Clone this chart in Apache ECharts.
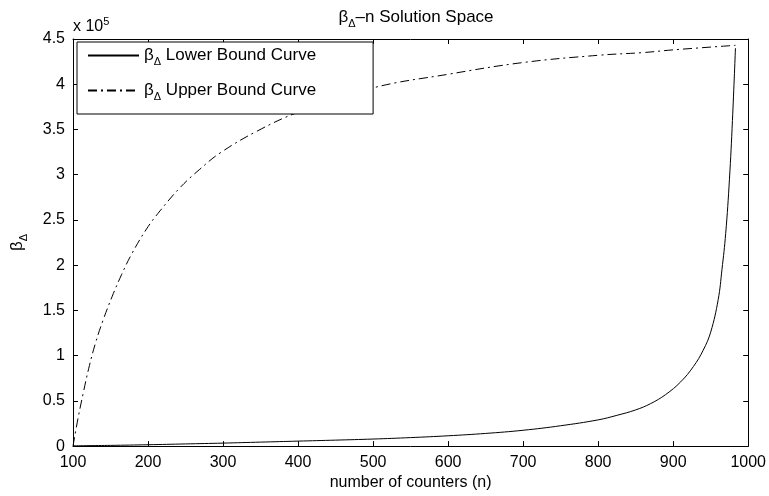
<!DOCTYPE html>
<html>
<head>
<meta charset="utf-8">
<script src="https://cdn.jsdelivr.net/npm/echarts@6/dist/echarts.min.js"></script>
<style>
  html, body { margin: 0; padding: 0; background: #fff; }
  #chart { width: 769px; height: 496px; }
</style>
</head>
<body>
<div id="chart"></div>
<script>
  // β_Δ values are in units of 10^5
  const lowerN = [100, 150, 200, 250, 300, 350, 400, 450, 500, 550, 600, 650, 700, 750, 800, 825, 850, 870, 890, 910, 927, 940, 950, 960, 965, 970, 975, 979, 983]
  const lowerBeta = [0.003, 0.008, 0.015, 0.024, 0.033, 0.044, 0.055, 0.066, 0.078, 0.094, 0.114, 0.14, 0.175, 0.225, 0.29, 0.34, 0.40, 0.47, 0.57, 0.71, 0.88, 1.06, 1.26, 1.62, 1.95, 2.35, 2.95, 3.6, 4.4]
  const upperN = [100, 107, 114, 121, 130, 140, 152, 165, 178, 198, 216, 243, 269, 296, 345, 400, 500, 600, 700, 800, 860, 900, 983]
  const upperBeta = [0.0, 0.32, 0.60, 0.86, 1.14, 1.39, 1.65, 1.90, 2.12, 2.40, 2.60, 2.86, 3.06, 3.24, 3.48, 3.69, 3.96, 4.11, 4.24, 4.32, 4.35, 4.38, 4.43]
  const seriesNames = ['Lower Bound Curve', 'Upper Bound Curve']
  const yTicks = [0, 0.5, 1, 1.5, 2, 2.5, 3, 3.5, 4, 4.5]

  const font = 'Liberation Sans, Arial, Helvetica, sans-serif'
  const chart = echarts.init(document.getElementById('chart'))

  const pairs = (xs, ys) => xs.map((x, i) => [x, ys[i]])
  const subRich = {
    b: { fontFamily: font, fontSize: 17, color: '#000' },
    s: { fontFamily: font, fontSize: 11, color: '#000', padding: [12, 0, 0, 0] },
    t: { fontFamily: font, fontSize: 17, color: '#000' }
  }
  const tickAxis = (pos, showLabel) => ({
    axisLine: { show: true, onZero: false, lineStyle: { color: '#000', width: 1 } },
    axisTick: { show: true, inside: true, length: 5, lineStyle: { color: '#000', width: 1 } },
    axisLabel: showLabel ? { color: '#000', fontFamily: font, fontSize: 16, formatter: v => String(v) } : { show: false },
    splitLine: { show: false },
    position: pos
  })

  const option = {
    backgroundColor: '#fff',
    animation: false,
    title: {
      text: '{b|β}{s|Δ}{t|–n Solution Space}',
      left: 411,
      top: 1,
      textAlign: 'center',
      textStyle: { fontWeight: 'normal', rich: subRich }
    },
    grid: { left: 73, right: 20, top: 39, bottom: 49 },
    legend: {
      orient: 'vertical',
      left: 77,
      top: 42,
      padding: [5, 57, 12, 10],
      itemWidth: 51,
      itemHeight: 14,
      itemGap: 15,
      borderColor: '#000',
      borderWidth: 1,
      backgroundColor: '#fff',
      borderRadius: 0,
      data: seriesNames,
      itemStyle: { opacity: 0 },
      formatter: name => '{b|β}{s|Δ}{t| ' + name + '}',
      textStyle: { rich: subRich }
    },
    xAxis: [
      Object.assign(tickAxis('bottom', true), {
        type: 'value', min: 100, max: 1000, interval: 100,
        name: 'number of counters (n)', nameLocation: 'middle', nameGap: 28,
        nameTextStyle: { color: '#000', fontFamily: font, fontSize: 16 }
      }),
      Object.assign(tickAxis('top', false), { type: 'value', min: 100, max: 1000, interval: 100 })
    ],
    yAxis: [
      Object.assign(tickAxis('left', true), {
        type: 'value', min: yTicks[0], max: yTicks[yTicks.length - 1], interval: 0.5,
        name: '{b|β}{s|Δ}', nameLocation: 'middle', nameGap: 44, nameRotate: 90,
        nameTextStyle: { rich: subRich }
      }),
      Object.assign(tickAxis('right', false), { type: 'value', min: 0, max: 4.5, interval: 0.5 })
    ],
    graphic: [
      {
        type: 'text', left: 73, top: 16,
        style: {
          text: '{a|x 10}{p|5}',
          rich: {
            a: { fontFamily: font, fontSize: 16, fill: '#000' },
            p: { fontFamily: font, fontSize: 11, fill: '#000', padding: [0, 0, 10, 0] }
          }
        }
      }
    ],
    series: [
      {
        name: seriesNames[0], type: 'line', symbol: 'none', smooth: 0.4,
        data: pairs(lowerN, lowerBeta),
        lineStyle: { color: '#000', width: 1, type: 'solid' },
        itemStyle: { color: '#000' }
      },
      {
        name: seriesNames[1], type: 'line', symbol: 'none', smooth: 0.4,
        data: pairs(upperN, upperBeta),
        lineStyle: { color: '#000', width: 1, type: [9, 4, 2, 4] },
        itemStyle: { color: '#000' }
      }
    ]
  }
  chart.setOption(option)
</script>
</body>
</html>
